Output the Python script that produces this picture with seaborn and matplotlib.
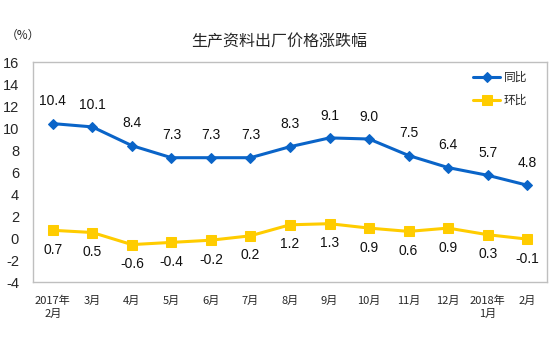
import matplotlib
matplotlib.use("Agg")
import matplotlib.pyplot as plt
import seaborn as sns
import pandas as pd
import numpy as np

categories = ["2017年\n2月", "3月", "4月", "5月", "6月", "7月", "8月", "9月",
              "10月", "11月", "12月", "2018年\n1月", "2月"]
yoy = [10.4, 10.1, 8.4, 7.3, 7.3, 7.3, 8.3, 9.1, 9.0, 7.5, 6.4, 5.7, 4.8]
mom = [0.7, 0.5, -0.6, -0.4, -0.2, 0.2, 1.2, 1.3, 0.9, 0.6, 0.9, 0.3, -0.1]
yticks = [-4, -2, 0, 2, 4, 6, 8, 10, 12, 14, 16]

sns.set_theme(style="white")
plt.rcParams['font.family'] = ['Liberation Sans', 'Noto Sans CJK SC', 'DejaVu Sans']

blue = "#0a64c8"
yellow = "#ffcc00"

df = pd.DataFrame({"x": list(range(len(categories))) * 2,
                   "v": yoy + mom,
                   "s": ["同比"] * len(yoy) + ["环比"] * len(mom)})

fig = plt.figure(figsize=(5.58, 3.37), dpi=100)
ax = fig.add_axes([33/558, 1 - 282/337, (547-33)/558, (282-62)/337])

sns.lineplot(data=df[df.s == "同比"], x="x", y="v", ax=ax, color=blue, lw=2.2,
             marker="D", markersize=5.5, markeredgecolor=blue, label="同比")
sns.lineplot(data=df[df.s == "环比"], x="x", y="v", ax=ax, color=yellow, lw=2.2,
             marker="s", markersize=7.5, markeredgecolor=yellow, label="环比")

for i, v in enumerate(yoy):
    ax.annotate(f"{v:.1f}", (i, v), xytext=(0, 16), textcoords="offset points",
                ha="center", va="center", fontsize=10, color="#111111")
for i, v in enumerate(mom):
    ax.annotate(f"{v:.1f}", (i, v), xytext=(0, -14), textcoords="offset points",
                ha="center", va="center", fontsize=10, color="#111111")

ax.set_xlim(-0.5, len(categories) - 0.5)
ax.set_ylim(-4, 16)
ax.set_yticks(yticks)
ax.set_yticklabels([str(t) for t in yticks], fontsize=10.5)
ax.set_xticks(range(len(categories)))
ax.set_xticklabels(categories, fontsize=8, family=['Noto Sans CJK SC', 'DejaVu Sans'],
                   linespacing=1.3)
ax.tick_params(axis="x", length=0, pad=10)
ax.tick_params(axis="y", length=0, pad=10)
ax.set_xticks(np.arange(0.5, len(categories) - 1, 1), minor=True)
ax.tick_params(axis="x", which="minor", direction="in", length=4, color="#bbbbbb", width=1)
ax.set_xlabel("")
ax.set_ylabel("")
for sp in ax.spines.values():
    sp.set_color("#bfbfbf")
    sp.set_linewidth(1)

leg = ax.legend(loc="upper right", frameon=False, handlelength=2.3,
                handletextpad=0.3, labelspacing=0.85, borderpad=0, borderaxespad=0,
                bbox_to_anchor=(0.962, 0.958),
                prop={'family': ['Noto Sans CJK SC'], 'size': 8.5})

fig.text(0.5, 1 - 42/337, "生产资料出厂价格涨跌幅", ha="center", va="center",
         fontsize=11.5, family=['Noto Sans CJK SC'])
fig.text(6/558, 1 - 35/337, "（%）", ha="left", va="center", fontsize=8.5,
         family=['Noto Sans CJK SC'])

fig.savefig("out.png", dpi=100)
